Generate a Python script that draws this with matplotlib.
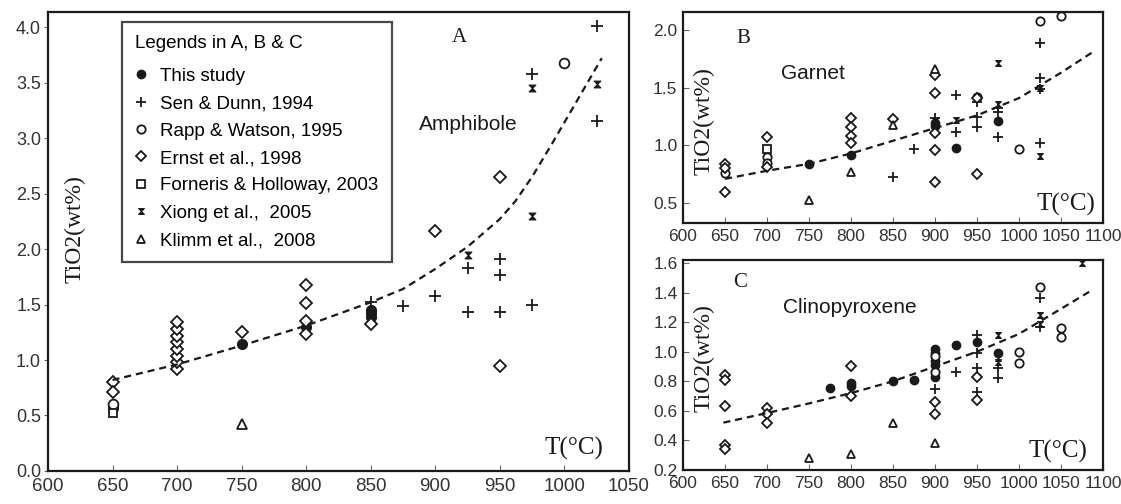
import matplotlib
matplotlib.use("Agg")
import matplotlib.pyplot as plt
from matplotlib.path import Path
from matplotlib.lines import Line2D

# ---------------- data: panel A (amphibole) ----------------
A_this_x = [650, 650, 750, 800, 850, 850, 850]
A_this_y = [0.59, 0.57, 1.14, 1.30, 1.45, 1.42, 1.39]
A_sen_x = [850, 875, 900, 925, 925, 950, 950, 950, 975, 975, 1025, 1025]
A_sen_y = [1.52, 1.49, 1.58, 1.83, 1.43, 1.91, 1.77, 1.43, 3.58, 1.50, 4.01, 3.15]
A_rapp_x = [650, 1000]
A_rapp_y = [0.60, 3.68]
A_ernst_x = [650, 650, 700, 700, 700, 700, 700, 700, 700, 700, 750,
             800, 800, 800, 800, 850, 900, 950, 950]
A_ernst_y = [0.80, 0.71, 0.92, 0.98, 1.04, 1.10, 1.16, 1.22, 1.28, 1.34, 1.25,
             1.68, 1.51, 1.35, 1.23, 1.32, 2.16, 2.65, 0.95]
A_forn_x = [650]
A_forn_y = [0.52]
A_xiong_x = [925, 975, 975, 1025]
A_xiong_y = [1.95, 2.30, 3.45, 3.49]
A_klimm_x = [750]
A_klimm_y = [0.42]
A_fit_x = [650, 700, 750, 800, 850, 875, 900, 925, 950, 962, 975, 990, 1005, 1018, 1029]
A_fit_y = [0.82, 0.96, 1.13, 1.31, 1.52, 1.64, 1.82, 2.02, 2.27, 2.43, 2.65, 2.94, 3.24, 3.50, 3.72]

# ---------------- data: panel B (garnet) ----------------
B_this_x = [750, 800, 900, 900, 925, 975]
B_this_y = [0.84, 0.92, 1.19, 1.17, 0.98, 1.21]
B_sen_x = [850, 875, 900, 925, 925, 950, 950, 950, 975, 975, 975, 1025, 1025, 1025, 1025]
B_sen_y = [0.73, 0.97, 1.24, 1.44, 1.12, 1.38, 1.25, 1.16, 1.32, 1.29, 1.07, 1.89, 1.58, 1.49, 1.02]
B_rapp_x = [650, 700, 700, 950, 1000, 1025, 1050]
B_rapp_y = [0.76, 0.90, 0.85, 1.42, 0.97, 2.08, 2.12]
B_ernst_x = [650, 650, 650, 700, 700, 800, 800, 800, 800, 850,
             900, 900, 900, 900, 900, 950, 950]
B_ernst_y = [0.84, 0.80, 0.60, 1.07, 0.81, 1.24, 1.16, 1.08, 1.02, 1.23,
             1.61, 1.45, 1.11, 0.96, 0.68, 1.41, 0.75]
B_forn_x = [700]
B_forn_y = [0.97]
B_xiong_x = [900, 925, 975, 975, 1025, 1025]
B_xiong_y = [1.21, 1.22, 1.71, 1.36, 1.50, 0.91]
B_klimm_x = [750, 800, 850, 900]
B_klimm_y = [0.53, 0.77, 1.18, 1.66]
B_fit_x = [650, 700, 750, 800, 850, 900, 950, 1000, 1050, 1088]
B_fit_y = [0.71, 0.78, 0.84, 0.93, 1.04, 1.15, 1.26, 1.41, 1.63, 1.81]

# ---------------- data: panel C (clinopyroxene) ----------------
C_this_x = [775, 800, 800, 850, 875, 900, 900, 900, 900, 900, 925, 950, 975]
C_this_y = [0.755, 0.79, 0.77, 0.80, 0.81, 1.02, 0.99, 0.94, 0.91, 0.83, 1.045, 1.065, 0.99]
C_sen_x = [900, 925, 950, 950, 950, 950, 975, 975, 1025, 1025]
C_sen_y = [0.75, 0.86, 1.11, 0.99, 0.89, 0.73, 0.89, 0.82, 1.36, 1.17]
C_rapp_x = [900, 900, 1000, 1000, 1025, 1050, 1050]
C_rapp_y = [0.97, 0.86, 1.00, 0.92, 1.44, 1.16, 1.10]
C_ernst_x = [650, 650, 650, 650, 650, 700, 700, 700, 800, 800, 900, 900, 950, 950]
C_ernst_y = [0.84, 0.81, 0.63, 0.37, 0.34, 0.62, 0.58, 0.52, 0.90, 0.70, 0.66, 0.58, 0.83, 0.67]
C_xiong_x = [975, 975, 975, 1025, 1025, 1075]
C_xiong_y = [1.11, 0.96, 0.93, 1.25, 1.19, 1.60]
C_klimm_x = [750, 800, 850, 900]
C_klimm_y = [0.28, 0.31, 0.52, 0.38]
C_fit_x = [648, 700, 750, 800, 850, 900, 950, 1000, 1050, 1088]
C_fit_y = [0.52, 0.585, 0.65, 0.72, 0.80, 0.90, 1.00, 1.12, 1.29, 1.42]

labels = ["This study", "Sen & Dunn, 1994", "Rapp & Watson, 1995",
          "Ernst et al., 1998", "Forneris & Holloway, 2003",
          "Xiong et al.,  2005", "Klimm et al.,  2008"]

INK = "#1a1a1a"
SANS = "Liberation Sans"
SERIF = "Liberation Serif"

# hourglass marker used for Xiong et al.
hourglass = Path([(-1, 1), (1, 1), (-1, -1), (1, -1), (-1, 1)],
                 [Path.MOVETO, Path.LINETO, Path.LINETO, Path.LINETO, Path.CLOSEPOLY])


def styles(ms):
    return [
        dict(marker="o", ms=ms, mfc=INK, mec=INK, mew=1.0),
        dict(marker="+", ms=ms * 1.25, mec=INK, mew=1.3),
        dict(marker="o", ms=ms, mfc="white", mec=INK, mew=1.3),
        dict(marker="D", ms=ms * 0.85, mfc="white", mec=INK, mew=1.3),
        dict(marker="s", ms=ms * 0.85, mfc="white", mec=INK, mew=1.3),
        dict(marker=hourglass, ms=ms * 0.7, mfc=INK, mec=INK, mew=0.8),
        dict(marker="^", ms=ms * 0.95, mfc="white", mec=INK, mew=1.3),
    ]


def draw_panel(ax, series, fit_x, fit_y, ms):
    st = styles(ms)
    for (x, y), s in zip(series, st):
        ax.plot(x, y, ls="none", **s)
    ax.plot(fit_x, fit_y, color=INK, lw=1.6, ls=(0, (3.2, 2.2)))
    for sp in ax.spines.values():
        sp.set_linewidth(1.6)
        sp.set_color(INK)


def side_texts(ax, ylab_xy, letter_xy, letter, name_xy, name, t_xy):
    ax.text(*ylab_xy, "TiO2(wt%)", transform=ax.transAxes, rotation=90,
            ha="center", va="center", fontsize=17, family=SERIF, color=INK)
    ax.text(*letter_xy, letter, transform=ax.transAxes, ha="center", va="center",
            fontsize=15, family=SERIF, color=INK)
    ax.text(*name_xy, name, transform=ax.transAxes, ha="center", va="center",
            fontsize=15, family=SANS, color=INK)
    ax.text(*t_xy, "T(°C)", transform=ax.transAxes, ha="center", va="center",
            fontsize=18, family=SERIF, color=INK)


fig = plt.figure(figsize=(11.21, 5.04), dpi=100)

# ---------- A ----------
axA = fig.add_axes([0.0428, 0.0655, 0.5182, 0.9105])
draw_panel(axA, [(A_this_x, A_this_y), (A_sen_x, A_sen_y), (A_rapp_x, A_rapp_y),
                 (A_ernst_x, A_ernst_y), (A_forn_x, A_forn_y),
                 (A_xiong_x, A_xiong_y), (A_klimm_x, A_klimm_y)],
           A_fit_x, A_fit_y, 7)
axA.set_xlim(600, 1050)
axA.set_ylim(0, 4.135)
axA.set_xticks(range(600, 1051, 50))
axA.set_yticks([0.0, 0.5, 1.0, 1.5, 2.0, 2.5, 3.0, 3.5, 4.0])
axA.set_yticklabels([f"{v:.1f}" for v in axA.get_yticks()])
axA.tick_params(axis="x", direction="in", length=4, labelsize=13.5, pad=5, color="#666666")
axA.tick_params(axis="y", direction="out", length=3, labelsize=13, pad=2, color="#666666")
side_texts(axA, (0.046, 0.527), (0.709, 0.945), "A", (0.723, 0.756), "Amphibole",
           (0.905, 0.05))

st = styles(6)
handles = [Line2D([], [], ls="none", **s) for s in st]
leg = axA.legend(handles, labels, title="Legends in A, B & C", loc="upper left",
                 bbox_to_anchor=(0.127, 0.978), frameon=True, fancybox=False,
                 handlelength=0.6, handletextpad=0.75, labelspacing=0.55,
                 borderpad=0.7, borderaxespad=0,
                 prop={"family": SANS, "size": 13.5}, title_fontsize=13.5)
leg.get_title().set_fontfamily(SANS)
leg._legend_box.align = "left"
leg._legend_box.sep = 11
leg.get_frame().set_edgecolor(INK)
leg.get_frame().set_linewidth(1.6)

# ---------- B ----------
axB = fig.add_axes([0.6093, 0.5575, 0.3747, 0.4185])
draw_panel(axB, [(B_this_x, B_this_y), (B_sen_x, B_sen_y), (B_rapp_x, B_rapp_y),
                 (B_ernst_x, B_ernst_y), (B_forn_x, B_forn_y),
                 (B_xiong_x, B_xiong_y), (B_klimm_x, B_klimm_y)],
           B_fit_x, B_fit_y, 6)
axB.set_xlim(600, 1100)
axB.set_ylim(0.327, 2.155)
axB.set_xticks(range(600, 1101, 50))
axB.set_yticks([0.5, 1.0, 1.5, 2.0])
axB.set_yticklabels(["0.5", "1.0", "1.5", "2.0"])
axB.tick_params(direction="in", length=4, labelsize=12.5, pad=4, color="#666666")
side_texts(axB, (0.05, 0.483), (0.143, 0.877), "B", (0.31, 0.71), "Garnet",
           (0.912, 0.09))

# ---------- C ----------
axC = fig.add_axes([0.6093, 0.0675, 0.3747, 0.4167])
draw_panel(axC, [(C_this_x, C_this_y), (C_sen_x, C_sen_y), (C_rapp_x, C_rapp_y),
                 (C_ernst_x, C_ernst_y), ([], []),
                 (C_xiong_x, C_xiong_y), (C_klimm_x, C_klimm_y)],
           C_fit_x, C_fit_y, 6)
axC.set_xlim(600, 1100)
axC.set_ylim(0.2, 1.62)
axC.set_xticks(range(600, 1101, 50))
axC.set_yticks([0.2, 0.4, 0.6, 0.8, 1.0, 1.2, 1.4, 1.6])
axC.set_yticklabels([f"{v:.1f}" for v in axC.get_yticks()])
axC.tick_params(direction="in", length=4, labelsize=12.5, pad=4, color="#666666")
side_texts(axC, (0.05, 0.533), (0.136, 0.895), "C", (0.398, 0.776), "Clinopyroxene",
           (0.893, 0.086))

for ax in (axA, axB, axC):
    for lab in ax.get_xticklabels() + ax.get_yticklabels():
        lab.set_fontfamily(SANS)
        lab.set_color("#333333")

fig.savefig("out.png", dpi=100)
